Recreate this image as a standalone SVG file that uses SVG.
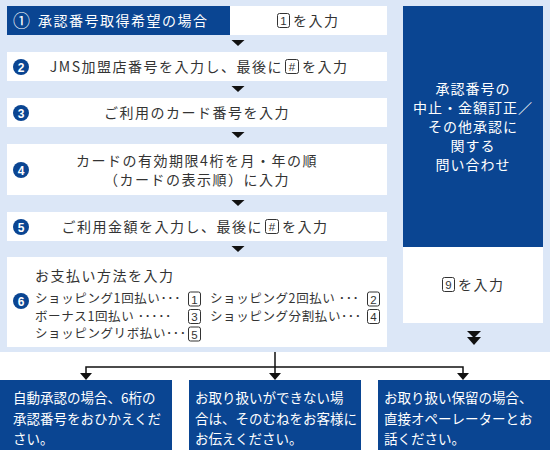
<svg xmlns="http://www.w3.org/2000/svg" width="550" height="450" viewBox="0 0 550 450">
<style>
.bg{fill:#dce7f7}
.blue{fill:#0a4592}
.wbox{fill:#ffffff}
.t{font-family:"Noto Sans CJK JP","Noto Sans",sans-serif;font-size:14px;fill:#333;letter-spacing:1.5px}
.ts{font-family:"Noto Sans CJK JP","Noto Sans",sans-serif;font-size:12.5px;fill:#333;letter-spacing:0.6px}
.tw{font-family:"Noto Sans CJK JP","Noto Sans",sans-serif;font-size:14px;fill:#fff;letter-spacing:1px}
.tb{font-family:"Noto Sans CJK JP","Noto Sans",sans-serif;font-size:13.5px;fill:#fff}
.num{font-family:"Liberation Sans",Arial,sans-serif;font-size:12px;font-weight:bold;fill:#fff;text-anchor:middle}
.key{fill:none;stroke:#333;stroke-width:1}
.keyt{font-family:"Liberation Sans",Arial,sans-serif;font-size:11.5px;fill:#333;text-anchor:middle}
.tri{fill:#111}
.ln{fill:none;stroke:#111;stroke-width:1.5}
.mid{text-anchor:middle}
.end{text-anchor:end}
</style>
<rect class="bg" x="0" y="0" width="550" height="352"/>

<g id="step1">
<rect class="blue" x="7" y="6" width="223" height="29"/>
<text class="tw" x="13" y="27" style="font-size:17px;letter-spacing:0">①</text>
<text class="tw" x="38" y="26" style="letter-spacing:1.5px">承認番号取得希望の場合</text>
</g>
<g id="step1-input">
<rect class="wbox" x="230" y="6" width="157" height="29"/>
<rect class="key" x="277.5" y="13.5" width="12" height="14" rx="2"/>
<text class="keyt" x="283.5" y="25">1</text>
<text class="t" x="293" y="26">を入力</text>
</g>

<g id="step2">
<rect class="wbox" x="7" y="52" width="380" height="29"/>
<circle class="blue" cx="21" cy="67" r="8"/>
<text class="num" x="21" y="71.5">2</text>
<text class="t end" x="283" y="72">JMS加盟店番号を入力し、最後に</text>
<rect class="key" x="285.5" y="59.5" width="13" height="14" rx="2"/>
<text class="keyt" x="292" y="71">#</text>
<text class="t" x="302" y="72">を入力</text>
</g>

<g id="step3">
<rect class="wbox" x="7" y="98" width="380" height="29"/>
<circle class="blue" cx="21" cy="113" r="8"/>
<text class="num" x="21" y="117.5">3</text>
<text class="t mid" x="197" y="118">ご利用のカード番号を入力</text>
</g>

<g id="step4">
<rect class="wbox" x="7" y="144" width="380" height="51"/>
<circle class="blue" cx="21" cy="170" r="8"/>
<text class="num" x="21" y="174.5">4</text>
<text class="t mid" x="197" y="166">カードの有効期限4桁を月・年の順</text>
<text class="t mid" x="197" y="185">（カードの表示順）に入力</text>
</g>

<g id="step5">
<rect class="wbox" x="7" y="212" width="380" height="29"/>
<circle class="blue" cx="21" cy="227" r="8"/>
<text class="num" x="21" y="231.5">5</text>
<text class="t end" x="263" y="232">ご利用金額を入力し、最後に</text>
<rect class="key" x="265.5" y="219.5" width="13" height="14" rx="2"/>
<text class="keyt" x="272" y="231">#</text>
<text class="t" x="282" y="232">を入力</text>
</g>

<g id="step6">
<rect class="wbox" x="7" y="257" width="380" height="90"/>
<circle class="blue" cx="21" cy="301" r="8"/>
<text class="num" x="21" y="305.5">6</text>
<text class="t" x="35" y="281">お支払い方法を入力</text>
<text class="ts" x="35" y="303">ショッピング1回払い･･･</text>
<text class="ts" x="35" y="320.5">ボーナス1回払い ･････</text>
<text class="ts" x="35" y="338">ショッピングリボ払い･･･</text>
<rect class="key" x="188.5" y="292" width="12" height="14" rx="2"/>
<text class="keyt" x="194.5" y="303.5">1</text>
<rect class="key" x="188.5" y="309.5" width="12" height="14" rx="2"/>
<text class="keyt" x="194.5" y="321">3</text>
<rect class="key" x="188.5" y="327" width="12" height="14" rx="2"/>
<text class="keyt" x="194.5" y="338.5">5</text>
<text class="ts" x="210" y="303">ショッピング2回払い ･･･</text>
<text class="ts" x="210" y="320.5">ショッピング分割払い･･･</text>
<rect class="key" x="367.5" y="292" width="12" height="14" rx="2"/>
<text class="keyt" x="373.5" y="303.5">2</text>
<rect class="key" x="367.5" y="309.5" width="12" height="14" rx="2"/>
<text class="keyt" x="373.5" y="321">4</text>
</g>

<g id="other-inquiry">
<rect class="blue" x="403" y="6" width="140" height="241"/>
<text class="tw mid" x="473" y="94">承認番号の</text>
<text class="tw mid" x="473" y="113">中止・金額訂正／</text>
<text class="tw mid" x="473" y="132">その他承認に</text>
<text class="tw mid" x="473" y="151">関する</text>
<text class="tw mid" x="473" y="170">問い合わせ</text>
</g>
<g id="other-input">
<rect class="wbox" x="403" y="247" width="140" height="76"/>
<rect class="key" x="442.5" y="277.5" width="12" height="14" rx="2"/>
<text class="keyt" x="448.5" y="289">9</text>
<text class="t" x="458" y="290">を入力</text>
</g>

<g id="result-auto">
<rect class="blue" x="0" y="380" width="172" height="70"/>
<text class="tb" x="13" y="403">自動承認の場合、6桁の</text>
<text class="tb" x="13" y="424">承認番号をおひかえくだ</text>
<text class="tb" x="13" y="444">さい。</text>
</g>
<g id="result-decline">
<rect class="blue" x="189" y="380" width="172" height="70"/>
<text class="tb" x="195" y="403">お取り扱いができない場</text>
<text class="tb" x="195" y="424">合は、そのむねをお客様に</text>
<text class="tb" x="195" y="444">お伝えください。</text>
</g>
<g id="result-hold">
<rect class="blue" x="378" y="380" width="172" height="70"/>
<text class="tb" x="384" y="403">お取り扱い保留の場合、</text>
<text class="tb" x="384" y="424">直接オペーレーターとお</text>
<text class="tb" x="384" y="444">話ください。</text>
</g>

<g id="connectors">
<polygon class="tri" points="231.5,40 244.5,40 238,46"/>
<polygon class="tri" points="231.5,86 244.5,86 238,92"/>
<polygon class="tri" points="231.5,132 244.5,132 238,138"/>
<polygon class="tri" points="231.5,200 244.5,200 238,206"/>
<polygon class="tri" points="231.5,246 244.5,246 238,252"/>
<polygon class="tri" points="467,331 481,331 474,338"/>
<polygon class="tri" points="467,337 481,337 474,345"/>
<path class="ln" d="M275,352 V373 M86,373 V367 H463 V373"/>
<polygon class="tri" points="80,373 92,373 86,380"/>
<polygon class="tri" points="269,373 281,373 275,380"/>
<polygon class="tri" points="457,373 469,373 463,380"/>
</g>
</svg>
